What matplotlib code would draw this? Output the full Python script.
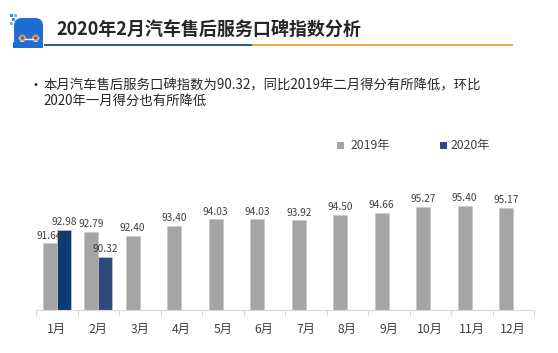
import matplotlib
matplotlib.use('Agg')
import matplotlib.pyplot as plt
from matplotlib.patches import FancyBboxPatch, Rectangle, Circle, Arc
import numpy as np

plt.rcParams['font.family'] = ['Noto Sans CJK SC', 'DejaVu Sans']

months = ['1月', '2月', '3月', '4月', '5月', '6月', '7月', '8月', '9月', '10月', '11月', '12月']
vals_2019 = [91.64, 92.79, 92.40, 93.40, 94.03, 94.03, 93.92, 94.50, 94.66, 95.27, 95.40, 95.17]
vals_2020 = [92.98, 90.32]
series_names = ['2019年', '2020年']

title = '2020年2月汽车售后服务口碑指数分析'
bullet = '本月汽车售后服务口碑指数为90.32，同比2019年二月得分有所降低，环比\n2020年一月得分也有所降低'

W, H = 558, 353
fig = plt.figure(figsize=(W / 100, H / 100), dpi=100)
fig.patch.set_facecolor('white')

# background layer in pixel coordinates for header decoration
bg = fig.add_axes([0, 0, 1, 1])
bg.set_xlim(0, W)
bg.set_ylim(H, 0)
bg.axis('off')

# logo (simplified)
bg.add_patch(FancyBboxPatch((14, 18), 29, 29, boxstyle='round,pad=0,rounding_size=8',
                            facecolor='#1E6ED2', edgecolor='none'))
for (px, py, c) in [(10, 14, '#3C8FE0'), (14, 14, '#7FB6EC'), (12, 18, '#3C8FE0'),
                    (10, 22, '#7FB6EC')]:
    bg.add_patch(Rectangle((px, py), 3, 3, facecolor=c, edgecolor='none'))
bg.add_patch(Arc((29, 37), 19, 13, theta1=0, theta2=180, color='white', lw=1.3))
bg.add_patch(Circle((22.5, 38), 2.5, facecolor='none', edgecolor='#F29A38', lw=1.3))
bg.add_patch(Circle((35.5, 38), 2.5, facecolor='none', edgecolor='#F29A38', lw=1.3))
bg.plot([25, 33], [38.5, 38.5], color='white', lw=1.0)
bg.add_patch(Rectangle((13, 42), 30, 6, facecolor='#1E6ED2', edgecolor='none'))

# title and underline
bg.text(56, 30, title, fontsize=13, fontweight='bold', color='#262626', va='center', ha='left')
bg.plot([44, 252], [44.5, 44.5], color='#1F4E79', lw=1.3, solid_capstyle='butt')
bg.plot([252, 513], [44.5, 44.5], color='#F0A330', lw=1.3, solid_capstyle='butt')

# bullet text
bg.text(28, 86, '•', fontsize=10, color='#262626', va='center', ha='left')
bg.text(43, 93, bullet, fontsize=9.6, color='#262626', va='center', ha='left', linespacing=1.15)

# chart
ax = fig.add_axes([36 / W, (H - 310) / H, 498 / W, 120.5 / H])
x = np.arange(len(months))
w = 0.34
c2019 = '#A5A5A5'
c2020 = ['#0D3A73', '#2E4A7D']

b1 = ax.bar(x - w / 2, vals_2019, w, color=c2019, edgecolor='#C8C8C8', linewidth=0.5,
            label=series_names[0])
b2 = ax.bar(x[:len(vals_2020)] + w / 2, vals_2020, w, color=c2020, edgecolor='#C8C8C8',
            linewidth=0.5, label=series_names[1])

for bars in (b1, b2):
    for r in bars:
        ax.annotate('%.2f' % r.get_height(), (r.get_x() + r.get_width() / 2, r.get_height()),
                    xytext=(0, 2), textcoords='offset points', ha='center', va='bottom',
                    fontsize=7.3, color='#404040')

ax.set_xlim(-0.5, len(months) - 0.5)
ax.set_ylim(85, 97)
ax.set_xticks(x)
ax.set_xticklabels(months, fontsize=8.8, color='#404040')
ax.set_xticks(np.arange(-0.5, len(months)), minor=True)
ax.tick_params(axis='x', which='major', length=0, pad=9)
ax.tick_params(axis='x', which='minor', length=4, color='#D9D9D9', width=0.8)
ax.set_yticks([])
for s in ['top', 'right', 'left']:
    ax.spines[s].set_visible(False)
ax.spines['bottom'].set_color('#D9D9D9')
ax.spines['bottom'].set_linewidth(0.8)

# legend
bg.add_patch(Rectangle((337, 142), 7, 7, facecolor=c2019, edgecolor='none'))
bg.text(351, 146, series_names[0], fontsize=8.8, color='#404040', va='center', ha='left')
bg.add_patch(Rectangle((440, 142), 7, 7, facecolor=c2020[1], edgecolor='none'))
bg.text(451, 146, series_names[1], fontsize=8.8, color='#404040', va='center', ha='left')

fig.savefig('out.png', dpi=100)
